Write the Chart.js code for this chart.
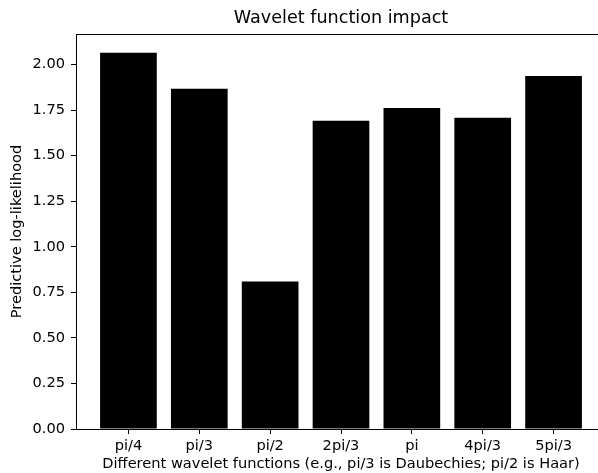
<!DOCTYPE html>
<html>
<head>
<meta charset="utf-8">
<script src="https://cdn.jsdelivr.net/npm/chart.js@4"></script>
<style>
html,body{margin:0;padding:0;overflow:hidden;background:#fff;width:598px;height:473px;}
canvas{display:block;}
</style>
</head>
<body>
<canvas id="c" width="682" height="473"></canvas>
<script>
const categories = ["pi/4", "pi/3", "pi/2", "2pi/3", "pi", "4pi/3", "5pi/3"];
const values = [2.064, 1.867, 0.809, 1.691, 1.761, 1.708, 1.936];
const yTicks = [0, 0.25, 0.5, 0.75, 1.0, 1.25, 1.5, 1.75, 2.0];
const chartTitle = 'Wavelet function impact';

const FONT = "'DejaVu Sans', sans-serif";
const FS = 14.6;
const decor = {
  id: 'decor',
  afterDraw(chart) {
    const {ctx, chartArea} = chart;
    ctx.save();
    ctx.strokeStyle = '#000';
    ctx.lineWidth = 1;
    ctx.beginPath();
    ctx.moveTo(chartArea.left, Math.round(chartArea.top) + 0.5);
    ctx.lineTo(chartArea.right, Math.round(chartArea.top) + 0.5);
    ctx.stroke();
    ctx.fillStyle = '#000';
    ctx.font = "17.6px " + FONT;
    ctx.textAlign = 'center';
    ctx.textBaseline = 'middle';
    ctx.fillText(chartTitle, (chartArea.left + chartArea.right) / 2, 18.5);
    ctx.restore();
  }
};

new Chart(document.getElementById('c'), {
  type: 'bar',
  data: {
    datasets: [{
      data: values.map((v, i) => ({x: i, y: v})),
      backgroundColor: '#000',
      borderWidth: 0,
      categoryPercentage: 0.8,
      barPercentage: 1.0
    }]
  },
  options: {
    responsive: false,
    animation: false,
    layout: {padding: {left: 0, right: 76, top: 34, bottom: 0}},
    plugins: {
      legend: {display: false},
      tooltip: {enabled: false},
      title: {display: false}
    },
    scales: {
      x: {
        type: 'linear',
        offset: false,
        min: -0.74,
        max: 6.74,
        afterBuildTicks(scale) { scale.ticks = categories.map((c, i) => ({value: i})); },
        afterFit(scale) { scale.height = 44; },
        ticks: {
          color: '#000',
          font: {family: FONT, size: FS},
          padding: 3,
          maxRotation: 0,
          autoSkip: false,
          callback: (v) => categories[v]
        },
        grid: {offset: false, drawOnChartArea: false, drawTicks: true, tickLength: 5, tickColor: '#000'},
        border: {display: true, color: '#000', width: 1},
        title: {
          display: true,
          text: 'Different wavelet functions (e.g., pi/3 is Daubechies; pi/2 is Haar)',
          color: '#000',
          font: {family: FONT, size: FS},
          padding: {top: 0, bottom: 0}
        }
      },
      y: {
        type: 'linear',
        min: 0,
        max: 2.167,
        afterBuildTicks(scale) { scale.ticks = yTicks.map(v => ({value: v})); },
        afterFit(scale) { scale.width = 76; },
        ticks: {
          color: '#000',
          font: {family: FONT, size: FS},
          padding: 6,
          callback: (v) => v.toFixed(2)
        },
        grid: {drawOnChartArea: false, drawTicks: true, tickLength: 5, tickColor: '#000'},
        border: {display: true, color: '#000', width: 1},
        title: {
          display: true,
          text: 'Predictive log-likelihood',
          color: '#000',
          font: {family: FONT, size: FS},
          padding: {top: 8, bottom: 0}
        }
      }
    }
  },
  plugins: [decor]
});
</script>
</body>
</html>
